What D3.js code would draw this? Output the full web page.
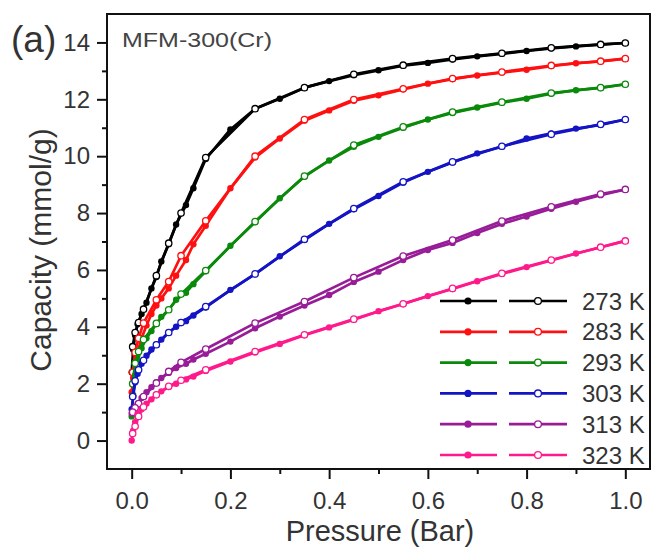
<!DOCTYPE html>
<html>
<head>
<meta charset="utf-8">
<script src="https://cdn.jsdelivr.net/npm/d3@7"></script>
<style>
  html, body { margin: 0; padding: 0; background: #fff; }
  svg { display: block; font-family: Arial, "Liberation Sans", sans-serif; }
</style>
</head>
<body>
<svg id="chart" width="652" height="547"></svg>
<script>
// ---------- data ----------
const temperatures = ["273 K", "283 K", "293 K", "303 K", "313 K", "323 K"];
const seriesColors = ["#000000", "#ff1010", "#0a8a0a", "#1414c4", "#981c98", "#ff1a8c"];

// adsorption (filled) pressures, bar
const pressureAds = [0, 0.003, 0.007, 0.012, 0.02, 0.03, 0.04, 0.05, 0.06, 0.075, 0.09, 0.11, 0.125, 0.15,
  0.2, 0.25, 0.3, 0.35, 0.4, 0.45, 0.5, 0.55, 0.6, 0.65, 0.7, 0.75, 0.8, 0.85, 0.9, 0.95, 1.0];
// desorption (open) pressures, bar
const pressureDes = [1.0, 0.95, 0.85, 0.75, 0.65, 0.55, 0.45, 0.35, 0.25, 0.15, 0.1, 0.075, 0.05, 0.024, 0.014, 0.007, 0.002];

const ads273 = [2.4, 3.2, 3.7, 4.1, 4.45, 4.85, 5.35, 5.75, 6.3, 6.9, 7.6, 8.28, 8.87, 9.9,
  10.94, 11.67, 12.02, 12.41, 12.64, 12.85, 13.02, 13.18, 13.28, 13.4, 13.51, 13.6, 13.7, 13.79, 13.86, 13.92, 13.98];
const ads283 = [1.7, 2.2, 2.7, 3.1, 3.6, 4.05, 4.45, 4.75, 5.0, 5.35, 5.8, 6.35, 6.9, 7.55,
  8.87, 9.95, 10.62, 11.25, 11.61, 11.95, 12.14, 12.35, 12.55, 12.71, 12.84, 12.94, 13.04, 13.17, 13.27, 13.33, 13.43];
const ads293 = [0.85, 1.6, 2.3, 2.8, 3.25, 3.6, 3.85, 4.1, 4.35, 4.6, 4.95, 5.2, 5.5, 5.95,
  6.85, 7.68, 8.52, 9.28, 9.85, 10.33, 10.68, 11.0, 11.29, 11.52, 11.71, 11.88, 12.02, 12.2, 12.32, 12.4, 12.53];
const ads303 = [1.1, 1.55, 2.05, 2.35, 2.7, 2.98, 3.2, 3.38, 3.55, 3.8, 4.0, 4.2, 4.4, 4.68,
  5.3, 5.85, 6.48, 7.05, 7.62, 8.13, 8.6, 9.07, 9.45, 9.78, 10.1, 10.33, 10.62, 10.8, 10.97, 11.1, 11.29];
const ads313 = [0.95, 1.0, 1.15, 1.3, 1.5, 1.7, 1.88, 2.05, 2.2, 2.38, 2.55, 2.7, 2.85, 3.05,
  3.48, 3.95, 4.36, 4.75, 5.12, 5.58, 5.94, 6.35, 6.7, 6.95, 7.3, 7.62, 7.88, 8.15, 8.4, 8.63, 8.83];
const ads323 = [0.0, 0.35, 0.65, 0.95, 1.1, 1.3, 1.45, 1.62, 1.73, 1.88, 2.0, 2.15, 2.25, 2.45,
  2.78, 3.1, 3.4, 3.7, 3.98, 4.25, 4.55, 4.8, 5.08, 5.33, 5.6, 5.86, 6.1, 6.33, 6.58, 6.8, 7.02];

const des273 = [13.98, 13.93, 13.81, 13.62, 13.43, 13.2, 12.88, 12.41, 11.67, 9.95, 8.0, 6.94, 5.8, 4.62, 4.15, 3.8, 3.3];
const des283 = [13.43, 13.34, 13.19, 12.96, 12.73, 12.37, 11.99, 11.29, 10.0, 7.73, 6.5, 5.59, 4.95, 4.13, 3.6, 3.1, 2.4];
const des293 = [12.53, 12.41, 12.22, 11.9, 11.55, 11.03, 10.39, 9.3, 7.7, 5.98, 5.15, 4.6, 4.12, 3.55, 3.13, 2.72, 2.0];
const des303 = [11.29, 11.12, 10.77, 10.35, 9.8, 9.1, 8.16, 7.08, 5.86, 4.71, 4.15, 3.8, 3.37, 2.82, 2.49, 2.1, 1.55];
const des313 = [8.83, 8.67, 8.22, 7.72, 7.05, 6.49, 5.73, 4.89, 4.13, 3.22, 2.75, 2.43, 2.02, 1.55, 1.3, 1.15, 1.0];
const des323 = [7.02, 6.8, 6.35, 5.88, 5.35, 4.81, 4.27, 3.72, 3.13, 2.49, 2.12, 1.91, 1.61, 1.18, 0.85, 0.5, 0.25];

const xMajorTicks = [0, 0.2, 0.4, 0.6, 0.8, 1.0];
const xMinorTicks = [0.1, 0.3, 0.5, 0.7, 0.9];
const yMajorTicks = [0, 2, 4, 6, 8, 10, 12, 14];
const yMinorTicks = [1, 3, 5, 7, 9, 11, 13];

const adsSeries = [ads273, ads283, ads293, ads303, ads313, ads323];
const desSeries = [des273, des283, des293, des303, des313, des323];

// ---------- layout ----------
const svg = d3.select("#chart");
const plot = { left: 107, right: 650, top: 14, bottom: 469 };
const x = d3.scaleLinear().domain([-0.05, 1.05]).range([plot.left, plot.right]);
const y = d3.scaleLinear().domain([-1, 15]).range([plot.bottom, plot.top]);
const textColor = "#333";

// axes
const gx = svg.append("g").attr("transform", `translate(0,${plot.bottom})`)
  .call(d3.axisBottom(x).tickValues(xMajorTicks).tickSize(10).tickPadding(13).tickFormat(d3.format(".1f")));
const gxm = svg.append("g").attr("transform", `translate(0,${plot.bottom})`)
  .call(d3.axisBottom(x).tickValues(xMinorTicks).tickSize(5).tickFormat(""));
const gy = svg.append("g").attr("transform", `translate(${plot.left},0)`)
  .call(d3.axisLeft(y).tickValues(yMajorTicks).tickSize(10).tickPadding(7).tickFormat(d3.format("d")));
const gym = svg.append("g").attr("transform", `translate(${plot.left},0)`)
  .call(d3.axisLeft(y).tickValues(yMinorTicks).tickSize(5).tickFormat(""));
[gx, gxm, gy, gym].forEach(g => {
  g.select(".domain").remove();
  g.selectAll(".tick line").attr("stroke", "#111").attr("stroke-width", 2);
  g.selectAll(".tick text").attr("fill", textColor).attr("font-size", 24)
    .attr("font-family", "Arial, 'Liberation Sans', sans-serif");
});

// frame
svg.append("rect").attr("x", plot.left).attr("y", plot.top)
  .attr("width", plot.right - plot.left).attr("height", plot.bottom - plot.top)
  .attr("fill", "none").attr("stroke", "#111").attr("stroke-width", 2);

// curves
const line = d3.line().x(d => x(d[0])).y(d => y(d[1]));
temperatures.forEach((t, i) => {
  const col = seriesColors[i];
  const ads = pressureAds.map((p, k) => [p, adsSeries[i][k]]);
  const des = pressureDes.map((p, k) => [p, desSeries[i][k]]);
  const g = svg.append("g");
  g.append("path").datum(ads).attr("d", line).attr("fill", "none")
    .attr("stroke", col).attr("stroke-width", 2.7).attr("stroke-linejoin", "round");
  g.append("path").datum(des).attr("d", line).attr("fill", "none")
    .attr("stroke", col).attr("stroke-width", 2.7).attr("stroke-linejoin", "round");
  g.selectAll(".a").data(ads).join("circle")
    .attr("cx", d => x(d[0])).attr("cy", d => y(d[1])).attr("r", 3.2).attr("fill", col);
  g.selectAll(".d").data(des).join("circle")
    .attr("cx", d => x(d[0])).attr("cy", d => y(d[1])).attr("r", 3.2)
    .attr("fill", "#fff").attr("stroke", col).attr("stroke-width", 1.3);
});

// legend
const legTop = 301, legStep = 30.8;
temperatures.forEach((t, i) => {
  const col = seriesColors[i];
  const yy = legTop + i * legStep;
  const g = svg.append("g");
  g.append("line").attr("x1", 440).attr("x2", 497).attr("y1", yy).attr("y2", yy)
    .attr("stroke", col).attr("stroke-width", 2.7);
  g.append("circle").attr("cx", 468).attr("cy", yy).attr("r", 3.6).attr("fill", col);
  g.append("line").attr("x1", 509).attr("x2", 567).attr("y1", yy).attr("y2", yy)
    .attr("stroke", col).attr("stroke-width", 2.7);
  g.append("circle").attr("cx", 538).attr("cy", yy).attr("r", 3.4)
    .attr("fill", "#fff").attr("stroke", col).attr("stroke-width", 1.3);
  g.append("text").attr("x", 582).attr("y", yy).attr("dy", "0.36em")
    .attr("font-size", 24).attr("fill", textColor).text(t);
});

// titles
svg.append("text").attr("x", 380).attr("y", 541).attr("text-anchor", "middle")
  .attr("font-size", 29).attr("fill", textColor).text("Pressure (Bar)");
svg.append("text").attr("transform", "translate(51,250) rotate(-90)")
  .attr("text-anchor", "middle").attr("font-size", 30).attr("fill", textColor)
  .text("Capacity (mmol/g)");
svg.append("text").attr("x", 11).attr("y", 52).attr("font-size", 37)
  .attr("fill", textColor).text("(a)");
svg.append("text").attr("x", 122).attr("y", 47).attr("font-size", 21)
  .attr("textLength", 150).attr("lengthAdjust", "spacingAndGlyphs")
  .attr("fill", "#444").text("MFM-300(Cr)");
</script>
</body>
</html>
